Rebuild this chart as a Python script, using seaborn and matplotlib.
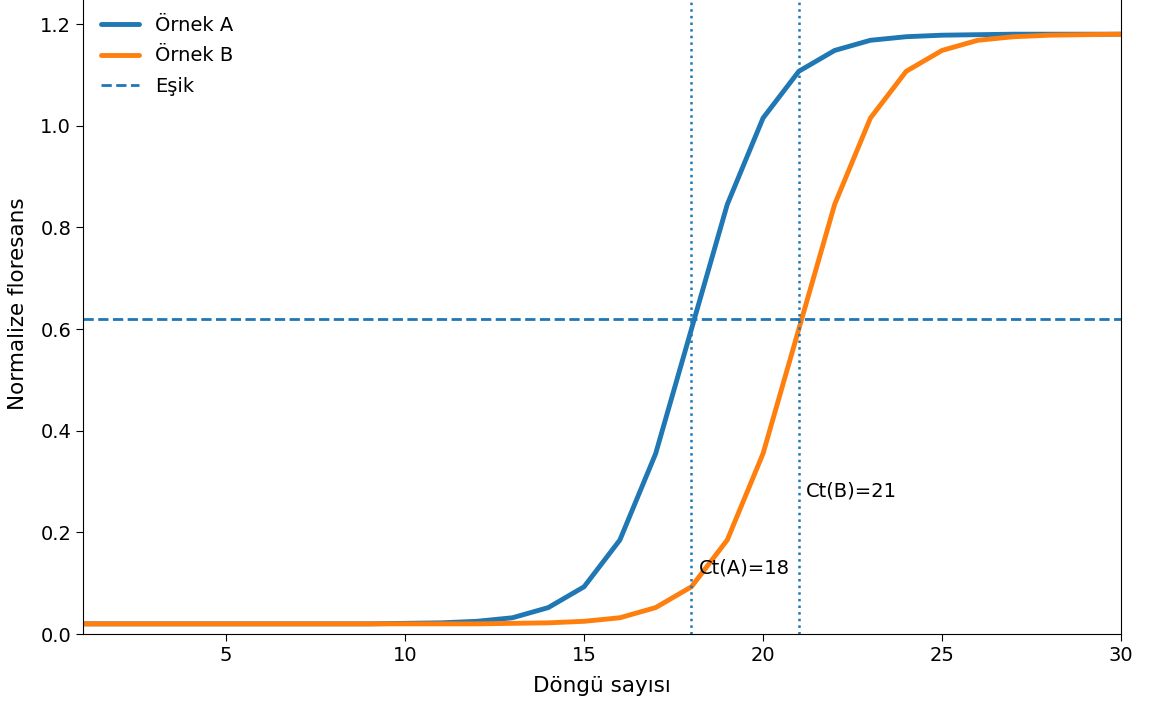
import numpy as np
import pandas as pd
import matplotlib
matplotlib.use("Agg")
import matplotlib.pyplot as plt
import seaborn as sns

# qPCR amplification curves
cycles = list(range(1, 31))
sample_a = [0.020, 0.020, 0.020, 0.020, 0.020, 0.020, 0.020, 0.020, 0.020, 0.021,
            0.022, 0.025, 0.032, 0.052, 0.093, 0.185, 0.355, 0.600, 0.845, 1.015,
            1.107, 1.148, 1.168, 1.175, 1.178, 1.179, 1.180, 1.180, 1.180, 1.180]
sample_b = [0.020, 0.020, 0.020, 0.020, 0.020, 0.020, 0.020, 0.020, 0.020, 0.020,
            0.020, 0.020, 0.021, 0.022, 0.025, 0.032, 0.052, 0.093, 0.185, 0.355,
            0.600, 0.845, 1.015, 1.107, 1.148, 1.168, 1.175, 1.178, 1.179, 1.180]
threshold = 0.62
ct_values = {"A": 18, "B": 21}
ct_label_y = {"A": 0.12, "B": 0.27}

df = pd.DataFrame({
    "cycle": cycles * 2,
    "fluor": sample_a + sample_b,
    "sample": ["Örnek A"] * len(cycles) + ["Örnek B"] * len(cycles),
})

sns.set_style("ticks")
plt.rcParams["font.family"] = ["DejaVu Sans"]
for key in ["text.color", "axes.labelcolor", "xtick.color", "ytick.color", "axes.edgecolor"]:
    plt.rcParams[key] = "black"
plt.rcParams["xtick.major.size"] = 5
plt.rcParams["ytick.major.size"] = 5

fig = plt.figure(figsize=(11.56, 7.04), dpi=100)
# top of the axes runs past the figure edge, like the reference crop
ax = fig.add_axes([0.0718, 0.0994, 0.8979, 0.9387])

sns.lineplot(data=df, x="cycle", y="fluor", hue="sample",
             palette=["#1f77b4", "#ff7f0e"], linewidth=3.5, ax=ax)
ax.axhline(threshold, color="#1f77b4", linestyle="--", linewidth=2, label="Eşik")
for k, ct in ct_values.items():
    ax.axvline(ct, color="#1f77b4", linestyle=":", linewidth=1.8)
    ax.text(ct + 0.2, ct_label_y[k], f"Ct({k})={ct}", fontsize=14)

ax.set_xlim(1, 30)
ax.set_ylim(0, 1.3)
ax.set_xticks([5, 10, 15, 20, 25, 30])
ax.set_yticks([0.0, 0.2, 0.4, 0.6, 0.8, 1.0, 1.2])
ax.tick_params(labelsize=14)
ax.set_xlabel("Döngü sayısı", fontsize=15.5, labelpad=8)
ax.set_ylabel("Normalize floresans", fontsize=15.5, labelpad=9)
ax.legend(loc="upper left", frameon=False, fontsize=14, title=None,
          labelspacing=0.6, bbox_to_anchor=(0.0, 0.962))

fig.savefig("out.png", dpi=100)
